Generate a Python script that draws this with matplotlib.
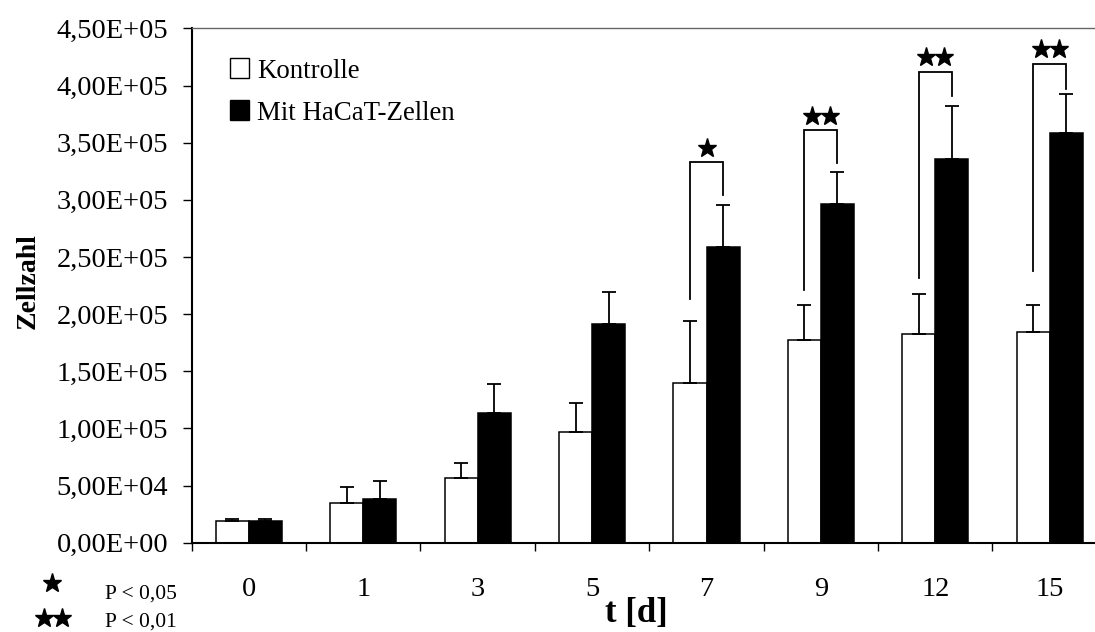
import matplotlib
matplotlib.use("Agg")
import matplotlib.pyplot as plt
from matplotlib.patches import Rectangle
from matplotlib.ticker import FuncFormatter, FixedLocator
from matplotlib.transforms import ScaledTranslation

plt.rcParams["font.family"] = ["Liberation Serif", "DejaVu Serif"]

# Cell counts per day (mean and upper SD)
days = ["0", "1", "3", "5", "7", "9", "12", "15"]
kontrolle = [1.87e4, 3.5e4, 5.7e4, 9.7e4, 1.40e5, 1.77e5, 1.83e5, 1.845e5]
kontrolle_sd = [2.3e3, 1.4e4, 1.3e4, 2.56e4, 5.4e4, 3.1e4, 3.5e4, 2.35e4]
hacat = [1.93e4, 3.85e4, 1.133e5, 1.915e5, 2.59e5, 2.963e5, 3.36e5, 3.585e5]
hacat_sd = [1.8e3, 1.58e4, 2.54e4, 2.8e4, 3.67e4, 2.83e4, 4.58e4, 3.45e4]

# Significance brackets: day index, left leg end, bracket top, right leg end, stars
sig_day = [4, 5, 6, 7]
sig_left = [2.13e5, 2.21e5, 2.315e5, 2.38e5]
sig_top = [3.33e5, 3.61e5, 4.12e5, 4.19e5]
sig_right = [3.04e5, 3.32e5, 3.91e5, 3.97e5]
sig_stars = [1, 2, 2, 2]

W, H = 1095, 632
fig = plt.figure(figsize=(W / 100, H / 100), dpi=100)
ax = fig.add_axes([191.7 / W, 1 - 542.7 / H, 915.2 / W, (542.7 - 28.5) / H])

bw = 0.29
xs = [i + 0.5 for i in range(len(days))]
xw = [x - bw / 2 for x in xs]
xb = [x + bw / 2 for x in xs]

err_kw = dict(ecolor="black", elinewidth=1.3, capsize=4.8, capthick=1.3)
ax.bar(xw, kontrolle, bw, color="white", edgecolor="black", linewidth=1.1,
       yerr=[[0] * len(days), kontrolle_sd], error_kw=err_kw, zorder=2)
ax.bar(xb, hacat, bw, color="black", edgecolor="black", linewidth=1.1,
       yerr=[[0] * len(days), hacat_sd], error_kw=err_kw, zorder=2)

ax.set_xlim(0, 8)
ax.set_ylim(0, 4.5e5)

# Brackets with stars
for d, yl, yt, yr, ns in zip(sig_day, sig_left, sig_top, sig_right, sig_stars):
    x0, x1 = xw[d], xb[d]
    ax.plot([x0, x0, x1, x1], [yl, yt, yt, yr], color="black", lw=1.3,
            solid_joinstyle="miter", zorder=3, clip_on=False)
    xm = (x0 + x1) / 2
    offs = [0] if ns == 1 else [-9, 9]
    for o in offs:
        ax.plot([xm], [yt], marker="*", markersize=14, color="black",
                transform=ax.transData + ScaledTranslation(
                    o / 100, 14.5 / 100, fig.dpi_scale_trans),
                clip_on=False, zorder=4)

# Spines
for s in ["left", "bottom"]:
    ax.spines[s].set_linewidth(1.5)
    ax.spines[s].set_color("black")
ax.spines["top"].set_color("#666666")
ax.spines["top"].set_linewidth(1.0)
ax.spines["right"].set_visible(False)

# Y axis
ax.yaxis.set_major_locator(FixedLocator([i * 5e4 for i in range(10)]))
ax.yaxis.set_major_formatter(FuncFormatter(lambda v, p: f"{v:.2E}".replace(".", ",")))
ax.tick_params(axis="y", direction="out", length=6.5, width=1.0, pad=10.5, labelsize=20.5)

# X axis: ticks between groups, labels centered
ax.xaxis.set_major_locator(FixedLocator(list(range(0, 9))))
ax.tick_params(axis="x", which="major", direction="out", length=6, width=1.0, labelbottom=False)
for x, lab in zip(xs, days):
    ax.annotate(lab, xy=(x, 0), xycoords=("data", "axes fraction"),
                xytext=(0, -53 * 0.72), textcoords="offset points",
                ha="center", va="baseline", fontsize=20.5)

# Axis titles
fig.text(35 / W, 1 - 281 / H, "Zellzahl", rotation=90, rotation_mode="anchor",
         ha="center", va="baseline", fontsize=20, fontweight="bold")
fig.text(636 / W, 1 - 621.7 / H, "t [d]", ha="center", va="baseline",
         fontsize=25, fontweight="bold")

# Legend
for label, fc, ybot in [("Kontrolle", "white", 77.5), ("Mit HaCaT-Zellen", "black", 119.5)]:
    fig.patches.append(Rectangle((230 / W, 1 - ybot / H), 19 / W, 19 / H,
                                 transform=fig.transFigure, facecolor=fc,
                                 edgecolor="black", linewidth=1.0))
    fig.text(257 / W, 1 - ybot / H, label, ha="left", va="baseline", fontsize=19.4)

# Significance key
key_ax = fig.add_axes([0, 0, 1, 1], facecolor="none")
key_ax.set_xlim(0, W)
key_ax.set_ylim(H, 0)
key_ax.axis("off")
key_ax.plot([52], [583], marker="*", markersize=14, color="black")
key_ax.plot([44, 62], [618, 618], marker="*", markersize=14, color="black", lw=0)
key_ax.text(105, 599, "P < 0,05", ha="left", va="baseline", fontsize=15.5)
key_ax.text(105, 627, "P < 0,01", ha="left", va="baseline", fontsize=15.5)

fig.savefig("out.png", dpi=100)
